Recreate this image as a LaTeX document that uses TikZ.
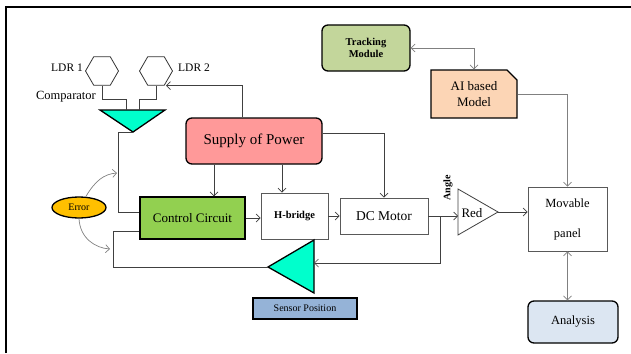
\documentclass[tikz,border=0pt]{standalone}
\usepackage{fontspec}
\setmainfont{Liberation Serif}
\usepackage{xcolor}
\usetikzlibrary{arrows.meta,positioning,shapes.geometric,shapes.misc,calc}
\definecolor{aqua}{HTML}{00FFCC}
\definecolor{supplycol}{HTML}{FF9999}
\definecolor{ctrlcol}{HTML}{92D050}
\definecolor{errcol}{HTML}{FFC000}
\definecolor{trackcol}{HTML}{C3D69B}
\definecolor{aicol}{HTML}{FCD5B5}
\definecolor{sensorcol}{HTML}{95B3D7}
\definecolor{anacol}{HTML}{DCE6F2}
\definecolor{wirecol}{HTML}{404040}
\newcommand{\setfs}[1]{\fontsize{#1}{#1}\selectfont}

\begin{document}
\begin{tikzpicture}[x=1pt,y=-1pt,
    wire/.style={draw=wirecol, line width=0.7pt},
    greywire/.style={draw=black!50, line width=0.7pt},
    arr/.style={wire, -{Straight Barb[length=4pt,width=8pt]}},
    greyarr/.style={greywire, -{Straight Barb[length=4pt,width=8pt]}},
    dblarr/.style={greywire, {Straight Barb[length=4pt,width=8pt]}-{Straight Barb[length=4pt,width=8pt]}},
    box/.style={draw=black!65, line width=0.8pt, align=center, inner sep=0pt},
    colbox/.style={draw=black, line width=1.3pt, align=center, inner sep=0pt},
    rndbox/.style={colbox, rounded corners=6pt},
    hexa/.style={regular polygon, regular polygon sides=6, minimum size=33pt,
        draw=black!80, line width=0.8pt, inner sep=0pt},
]
    \useasboundingbox (0,0) rectangle (631,353);

    % Frame
    \draw[line width=1.6pt] (6,353) -- (6,7) -- (631,7);

    % LDR sensors and comparator
    \node[hexa] (ldr1) at (102,71) {};
    \node[hexa] (ldr2) at (156,71) {};
    \node[font=\setfs{11.5}] (ldr1lbl) at (67,68) {LDR 1};
    \node[font=\setfs{11.5}] (ldr2lbl) at (194,68) {LDR 2};
    \node[font=\setfs{12.5}] (cmplbl) at (66,97) {Comparator};
    \filldraw[fill=aqua, draw=black, line width=1.3pt] (100,110) -- (165,110) -- (133,132) -- cycle;
    \coordinate (cmpin1) at (126,110);
    \coordinate (cmpin2) at (139,110);
    \coordinate (cmpout) at (133,132);
    \draw[wire] (ldr1.south) -- ++(0,14) -| (cmpin1);
    \draw[wire] (ldr2.south) -- ++(0,14) -| (cmpin2);

    % Power and drive chain
    \node[rndbox, fill=supplycol, minimum width=136pt, minimum height=46pt,
        font=\setfs{15}] (supply) at (254,141) {Supply of Power};
    \node[colbox, fill=ctrlcol, minimum width=105pt, minimum height=42pt,
        font=\setfs{13}] (ctrl) at (192.5,218) {Control Circuit};
    \node[box, minimum width=67pt, minimum height=46pt,
        font=\setfs{10.5}\bfseries] (hb) at (294.5,216) {H-bridge};
    \node[box, minimum width=88pt, minimum height=36pt,
        font=\setfs{13.5}] (dc) at (384,216) {DC Motor};

    \coordinate (s1) at ([xshift=-40pt]supply.south);
    \coordinate (s2) at ([xshift=28pt]supply.south);
    \draw[arr] ([xshift=-12pt]supply.north) |- ([xshift=10pt]ldr2.south);
    \draw[arr] (s1) -- (s1 |- ctrl.north);
    \draw[arr] (s2) -- (s2 |- hb.north);
    \draw[arr] ([yshift=8pt]supply.east) -| (dc.north);
    \draw[arr] (ctrl.east) -- (ctrl.east -| hb.west);
    \draw[arr] (hb.east) -- (hb.east -| dc.west);
    \draw[wire] (cmpout) -- ++(-15,0) |- ([yshift=6pt]ctrl.west);

    % Error
    \node[ellipse, colbox, fill=errcol, minimum width=54pt, minimum height=21pt,
        font=\setfs{10}] (err) at (79,207.5) {Error};
    \coordinate (errA) at (117,173);
    \coordinate (errB) at (110,249);
    \draw[greyarr] ([xshift=7pt]err.north) .. controls (95,181) and (104,174) .. (errA);
    \draw[greyarr] (err.south) .. controls (80,238) and (95,248) .. (errB);

    % Position feedback
    \filldraw[fill=aqua, draw=black, line width=1.3pt] (314,240) -- (314,293) -- (268,267) -- cycle;
    \coordinate (sensR) at (314,263);
    \coordinate (sensTip) at (268,267);
    \node[colbox, fill=sensorcol, minimum width=104pt, minimum height=21pt,
        font=\setfs{10}] (sens) at (305,308.5) {Sensor Position};
    \draw[wire] (sensTip) -| ([xshift=-26pt,yshift=-13pt]ctrl.west) -- ([yshift=-13pt]ctrl.west);
    \coordinate (br) at ($(dc.east)+(12,0)$);
    \draw[arr] (br) |- (sensR);

    % Reducer and panel
    \filldraw[fill=white, draw=wirecol, line width=0.8pt] (458,189) -- (498,212) -- (458,235) -- cycle;
    \coordinate (redL) at (458,216);
    \coordinate (redTip) at (498,212);
    \node[font=\setfs{13}] (redlbl) at (472,213) {Red};
    \node[font=\setfs{10}\bfseries, rotate=90] (angle) at (448,188) {Angle};
    \draw[arr] (dc.east) -- (redL);
    \node[box, minimum width=79pt, minimum height=64pt,
        font=\fontsize{12.5}{30}\selectfont] (mov) at (567.5,219) {Movable\\panel};
    \draw[arr] (redTip) -- (redTip -| mov.west);

    % Tracking side
    \node[rndbox, fill=trackcol, minimum width=88pt, minimum height=46pt,
        font=\fontsize{10.5}{12.5}\selectfont\bfseries] (trk) at (366,48) {Tracking\\Module};
    \node[colbox, chamfered rectangle, chamfered rectangle corners=north east,
        chamfered rectangle xsep=7pt, fill=aicol, minimum width=86pt, minimum height=48pt,
        font=\fontsize{13}{16}\selectfont] (ai) at (474,94) {AI based\\Model};
    \node[rndbox, fill=anacol, minimum width=90pt, minimum height=42pt,
        font=\setfs{12.5}] (ana) at (573,322) {Analysis};
    \draw[dblarr] (trk.east) -| (ai.north);
    \draw[greyarr] (ai.east) -| (mov.north);
    \draw[dblarr] (mov.south) -- (mov.south |- ana.north);
\end{tikzpicture}
\end{document}
